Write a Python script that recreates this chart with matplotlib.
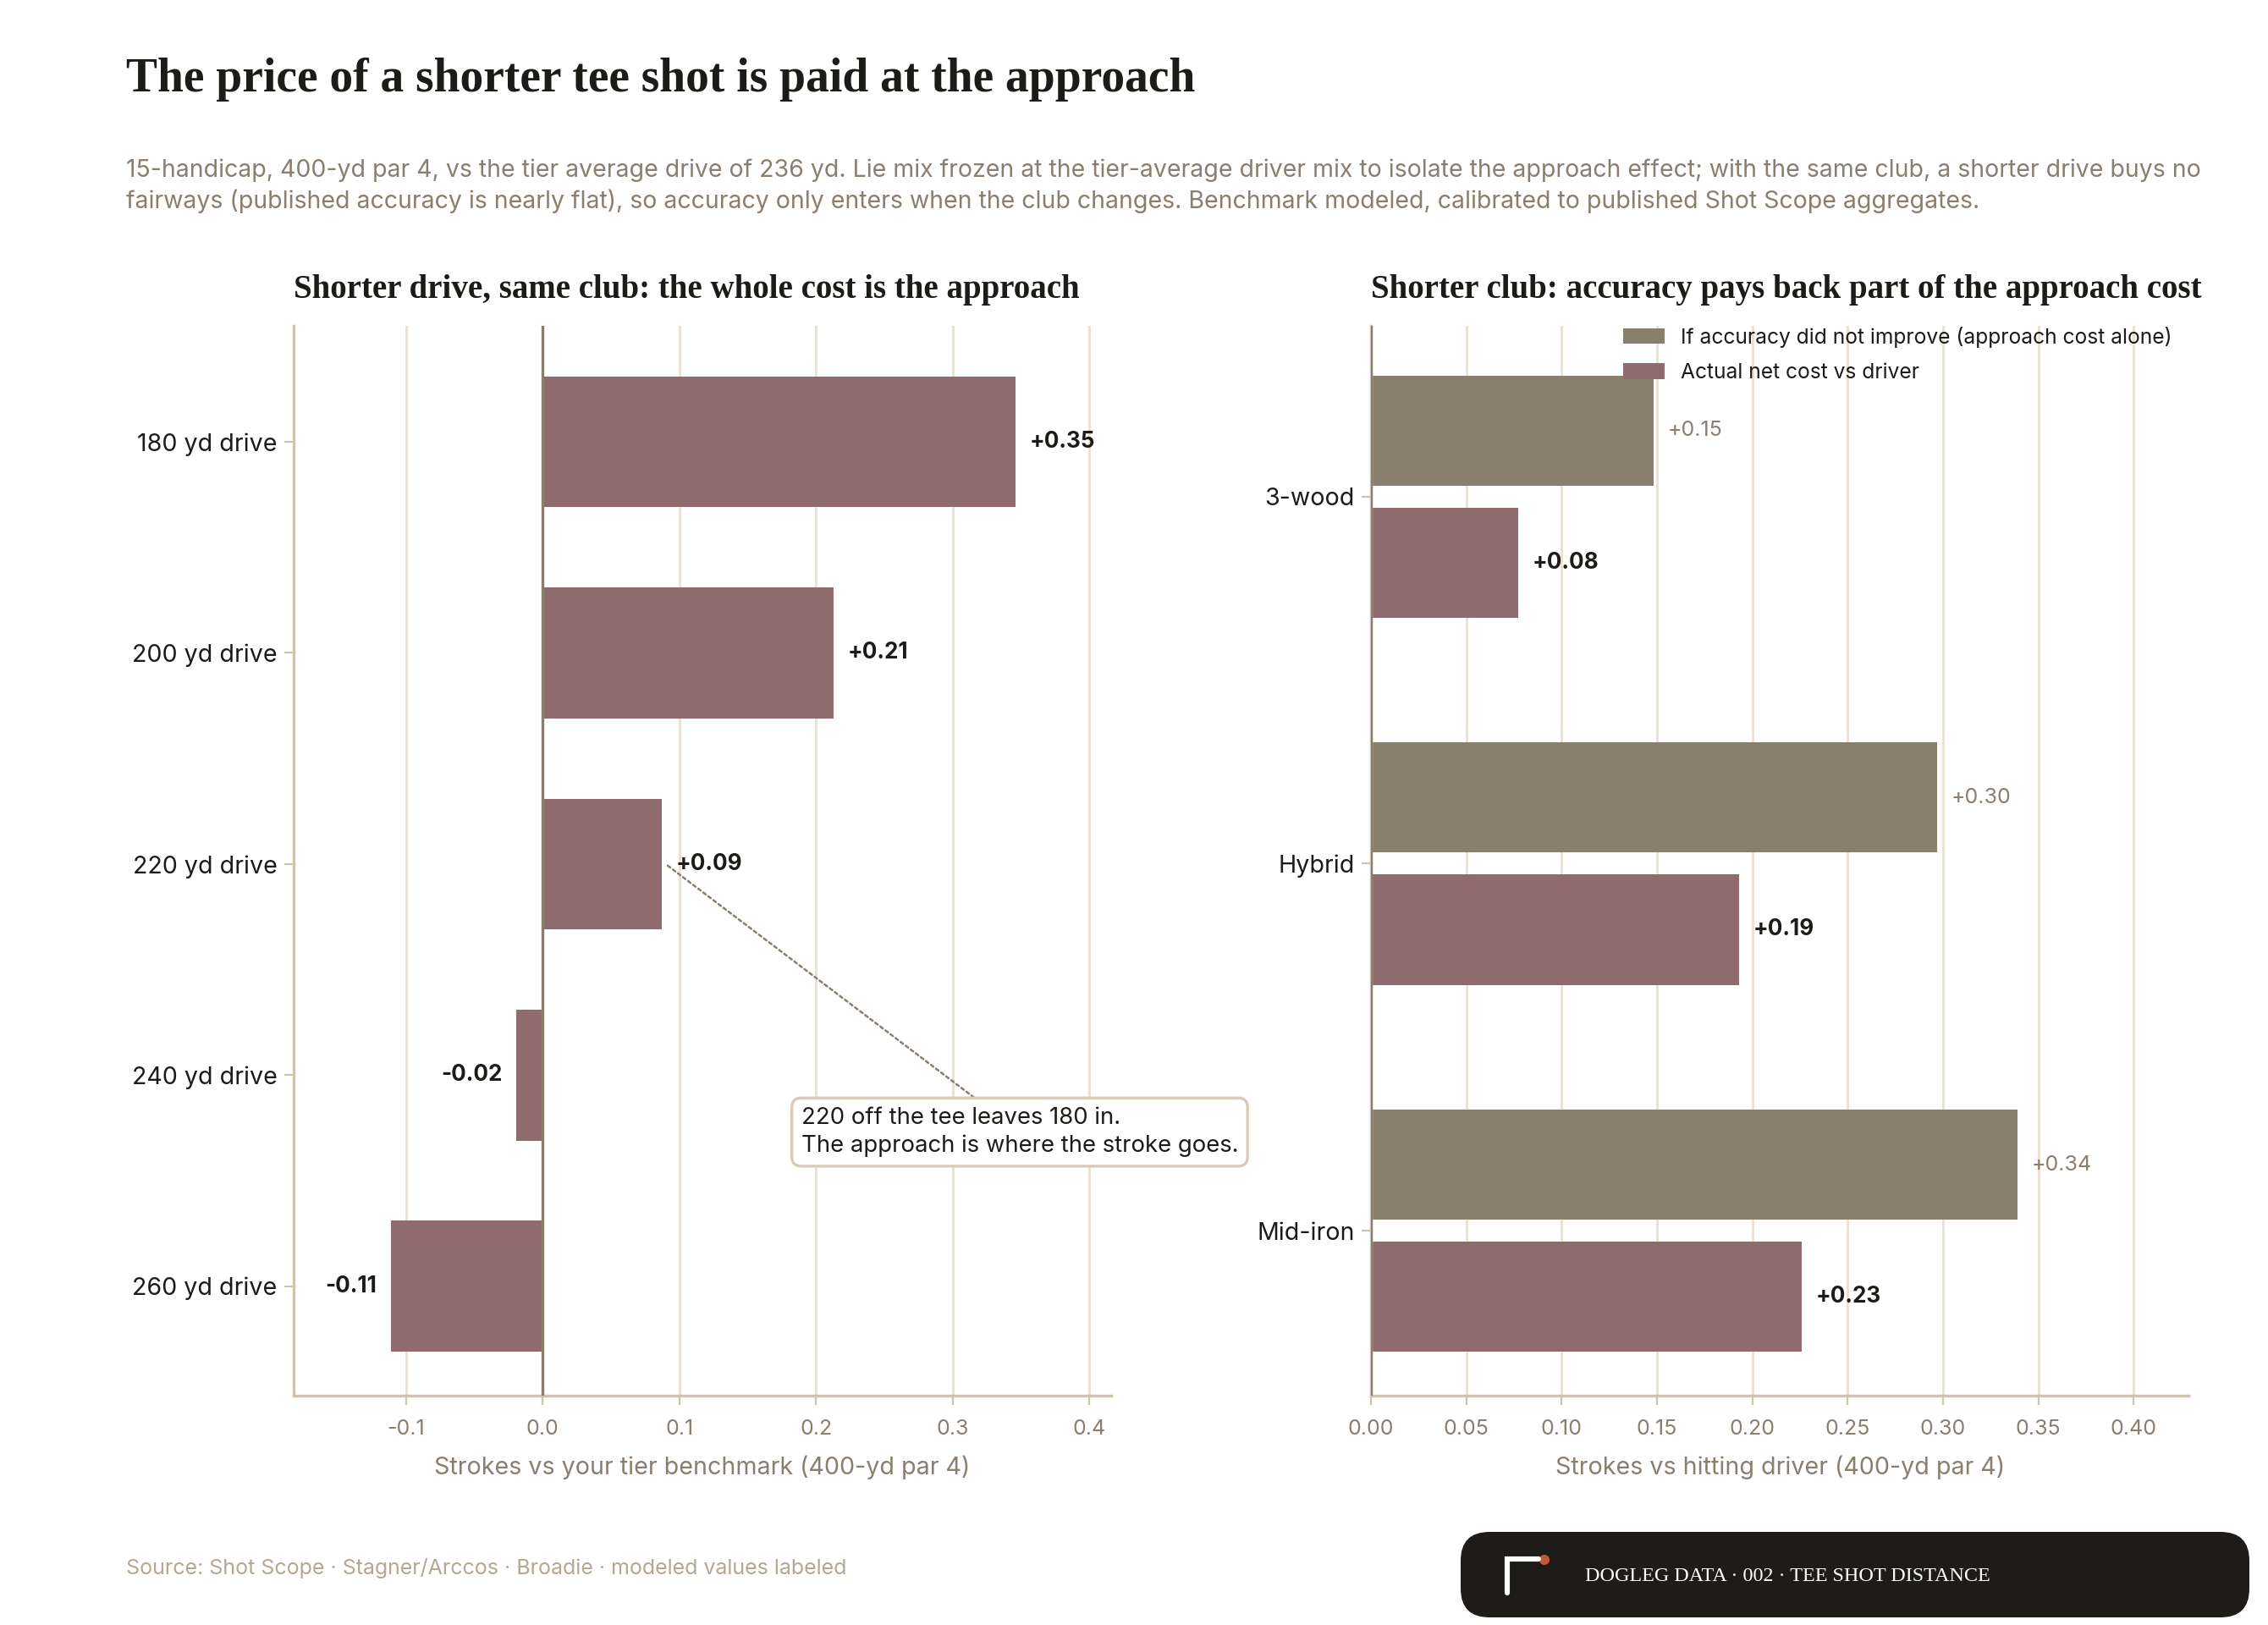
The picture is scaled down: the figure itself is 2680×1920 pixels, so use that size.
import matplotlib
matplotlib.use("Agg")
import matplotlib.pyplot as plt
from matplotlib.patches import FancyBboxPatch, Circle
from matplotlib.lines import Line2D
from matplotlib.ticker import FormatStrFormatter
import numpy as np

# ---- data ----
drive_labels = ["180 yd drive", "200 yd drive", "220 yd drive", "240 yd drive", "260 yd drive"]
drive_cost = [0.346, 0.213, 0.087, -0.019, -0.111]

club_labels = ["3-wood", "Hybrid", "Mid-iron"]
approach_only = [0.148, 0.297, 0.339]
net_cost = [0.077, 0.193, 0.226]

left_ticks = [-0.1, 0.0, 0.1, 0.2, 0.3, 0.4]
right_ticks = [0.0, 0.05, 0.10, 0.15, 0.20, 0.25, 0.30, 0.35, 0.40]

# ---- style ----
ROSE = "#8f6b6e"
TAUPE = "#8a7f6e"
GRID = "#e9e0d0"
SPINE = "#cfc3ad"
DARK = "#1d1b18"
MUTED = "#8a7f6e"
SOURCE = "#b3a892"
SANS = ["Inter", "DejaVu Sans"]
SERIF = ["Liberation Serif", "DejaVu Serif"]

plt.rcParams["font.family"] = SANS

fig = plt.figure(figsize=(13.4, 9.6), dpi=200)
ax1 = fig.add_axes([0.1295, 0.141, 0.3605, 0.6585])
ax2 = fig.add_axes([0.6045, 0.141, 0.3605, 0.6585])


def style_axis(ax):
    for s in ["top", "right"]:
        ax.spines[s].set_visible(False)
    for s in ["left", "bottom"]:
        ax.spines[s].set_color(SPINE)
        ax.spines[s].set_linewidth(1.2)
    ax.grid(axis="x", color=GRID, linewidth=1.0)
    ax.set_axisbelow(True)
    ax.tick_params(axis="x", colors=SPINE, labelcolor=MUTED, labelsize=9, length=4, pad=6)
    ax.tick_params(axis="y", colors=SPINE, labelcolor=DARK, labelsize=10.3, length=4, pad=3)


# ---- left panel ----
y1 = np.arange(len(drive_labels))
ax1.barh(y1, drive_cost, height=0.62, color=ROSE, zorder=2)
ax1.axvline(0, color=TAUPE, linewidth=1.2, zorder=3)
for yi, v in zip(y1, drive_cost):
    off = 6 if v >= 0 else -6
    ax1.annotate(f"{v:+.2f}", (v, yi), xytext=(off, 0), textcoords="offset points",
                 ha="left" if v >= 0 else "right", va="center",
                 fontsize=9.4, fontweight="bold", color=DARK)
ax1.set_yticks(y1)
ax1.set_yticklabels(drive_labels)
ax1.set_ylim(4.52, -0.55)
ax1.set_xlim(-0.182, 0.416)
ax1.set_xticks(left_ticks)
ax1.xaxis.set_major_formatter(FormatStrFormatter("%.1f"))
style_axis(ax1)
ax1.set_xlabel("Strokes vs your tier benchmark (400-yd par 4)", color=MUTED, fontsize=10.3, labelpad=7)
ax1.set_title("Shorter drive, same club: the whole cost is the approach", loc="left",
              family=SERIF, fontweight="bold", fontsize=14, color=DARK, pad=12)

ax1.annotate("220 off the tee leaves 180 in.\nThe approach is where the stroke goes.",
             xy=(0.09, 2.0), xytext=(0.349, 3.27), ha="center", va="center",
             multialignment="left", fontsize=9.9, color=DARK, linespacing=1.3,
             bbox=dict(boxstyle="round,pad=0.4,rounding_size=0.4", fc="white", ec="#d8ccb2", lw=1.2),
             arrowprops=dict(arrowstyle="-", color=TAUPE, linestyle=(0, (1.5, 1.5)), lw=0.9,
                             shrinkA=0, shrinkB=0))

# ---- right panel ----
y2 = np.arange(len(club_labels))
ax2.barh(y2 - 0.18, approach_only, height=0.30, color=TAUPE, zorder=2,
         label="If accuracy did not improve (approach cost alone)")
ax2.barh(y2 + 0.18, net_cost, height=0.30, color=ROSE, zorder=2,
         label="Actual net cost vs driver")
ax2.axvline(0, color=TAUPE, linewidth=1.2, zorder=3)
for yi, v in zip(y2, approach_only):
    ax2.annotate(f"{v:+.2f}", (v, yi - 0.18), xytext=(6, 0), textcoords="offset points",
                 ha="left", va="center", fontsize=9, color=MUTED)
for yi, v in zip(y2, net_cost):
    ax2.annotate(f"{v:+.2f}", (v, yi + 0.18), xytext=(6, 0), textcoords="offset points",
                 ha="left", va="center", fontsize=9.4, fontweight="bold", color=DARK)
ax2.set_yticks(y2)
ax2.set_yticklabels(club_labels)
ax2.set_ylim(2.45, -0.465)
ax2.set_xlim(0, 0.4288)
ax2.set_xticks(right_ticks)
ax2.xaxis.set_major_formatter(FormatStrFormatter("%.2f"))
style_axis(ax2)
ax2.set_xlabel("Strokes vs hitting driver (400-yd par 4)", color=MUTED, fontsize=10.3, labelpad=7)
ax2.set_title("Shorter club: accuracy pays back part of the approach cost", loc="left",
              family=SERIF, fontweight="bold", fontsize=14, color=DARK, pad=12)
ax2.legend(loc="upper left", bbox_to_anchor=(0.285, 1.017), frameon=False, fontsize=8.85,
           handlelength=2.0, handleheight=0.8, handletextpad=0.8, labelspacing=0.75,
           labelcolor=DARK)

# ---- headings ----
fig.text(0.0556, 0.951, "The price of a shorter tee shot is paid at the approach",
         family=SERIF, fontweight="bold", fontsize=20, color=DARK, va="center")
fig.text(0.0556, 0.895,
         "15-handicap, 400-yd par 4, vs the tier average drive of 236 yd. Lie mix frozen at the "
         "tier-average driver mix to isolate the approach effect; with the same club, a shorter drive buys no",
         fontsize=10.25, color=MUTED, va="center")
fig.text(0.0556, 0.876,
         "fairways (published accuracy is nearly flat), so accuracy only enters when the club changes. "
         "Benchmark modeled, calibrated to published Shot Scope aggregates.",
         fontsize=10.25, color=MUTED, va="center")
fig.text(0.0556, 0.0349, "Source: Shot Scope \u00b7 Stagner/Arccos \u00b7 Broadie \u00b7 modeled values labeled",
         fontsize=9, color=SOURCE, va="center")

# ---- badge ----
tr = fig.dpi_scale_trans
fig.add_artist(FancyBboxPatch((8.63, 0.045), 4.66, 0.505,
                              boxstyle="round,pad=0,rounding_size=0.17",
                              transform=tr, fc="#1e1c18", ec="none"))
fig.add_artist(Line2D([8.905, 8.905, 9.09], [0.19, 0.39, 0.39], transform=tr,
                      color="white", lw=2.2, solid_capstyle="round", solid_joinstyle="miter"))
fig.add_artist(Circle((9.125, 0.385), 0.03, transform=tr, fc="#c0593a", ec="none"))
fig.text(9.365 / 13.4, 0.285 / 9.6, "DOGLEG DATA \u00b7 002 \u00b7 TEE SHOT DISTANCE",
         family=SERIF, fontsize=8.7, color="white", va="center")

fig.savefig("out.png", dpi=200, facecolor="white")
